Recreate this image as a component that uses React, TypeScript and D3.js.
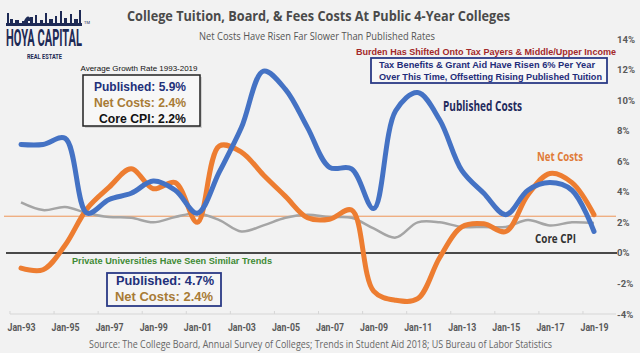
import { useEffect, useRef } from "react"
import * as d3 from "d3"

// Anos (Jan de cada ano)
const anos = d3.range(1993, 2020)

// Taxa de crescimento anual (%)
const publicados = [7.1, 7.1, 7.5, 2.6, 3.5, 3.9, 4.7, 4.1, 2.6, 5.3, 8.2, 11.9, 10.7, 8.2, 5.6, 5.5, 2.9, 9.3, 10.5, 8.7, 5.4, 3.9, 2.5, 4.1, 4.6, 4.1, 1.4]
const custosLiquidos = [-1.0, -1.1, 0.5, 2.9, 4.3, 5.5, 4.2, 4.6, 2.0, 7.0, 6.6, 5.1, 3.7, 2.3, 2.2, 2.8, -2.5, -3.1, -3.0, -0.3, 1.7, 1.9, 1.4, 3.8, 5.2, 4.6, 2.5]
const cpiNucleo = [3.3, 2.8, 3.0, 2.6, 2.35, 2.3, 2.0, 2.35, 2.6, 2.15, 1.4, 1.8, 2.3, 2.5, 2.35, 2.3, 1.6, 1.0, 2.0, 2.0, 1.7, 1.7, 1.7, 2.15, 1.8, 2.0, 1.95]

const mediaLiquida = 2.4
const ticksY = [-4, -2, 0, 2, 4, 6, 8, 10, 12, 14]
const ticksX = d3.range(1993, 2020, 2)

export default function App() {
  const svgRef = useRef<SVGSVGElement>(null)

  useEffect(() => {
    if (!svgRef.current) return
    const svg = d3.select(svgRef.current)
    svg.selectAll("*").remove()

    const width = 640
    const height = 353

    svg.append("rect").attr("width", width).attr("height", height).attr("fill", "#f2f2f2")

    // Escalas
    const x = d3.scaleLinear().domain([1993, 2019]).range([21, 594])
    const y = d3.scaleLinear().domain([-4, 14]).range([314, 39])

    // Logo
    const logo = svg.append("g").attr("fill", "#1e2a55")
    logo.append("rect").attr("x", 6).attr("y", 23).attr("width", 76).attr("height", 3)
    const predios: [number, number, number][] = [
      [7, 13, 2], [10, 19, 3], [15, 20, 4], [22, 21, 6], [30, 17, 3], [35, 15, 2], [40, 20, 3],
      [45, 13, 2], [49, 19, 4], [55, 16, 2], [60, 11, 2], [64, 18, 3], [70, 14, 2], [74, 19, 4], [79, 10, 2],
    ]
    predios.forEach(([px, py, pw]) => {
      logo.append("rect").attr("x", px).attr("y", py).attr("width", pw).attr("height", 24 - py)
    })
    logo.append("path").attr("d", "M24,21 Q28,12 32,21 Z")
    logo
      .append("text")
      .attr("x", 6)
      .attr("y", 46)
      .attr("textLength", 76)
      .attr("lengthAdjust", "spacingAndGlyphs")
      .style("font-family", "Roboto, sans-serif")
      .style("font-weight", "bold")
      .style("font-size", "23px")
      .text("HOYA CAPITAL")
    logo
      .append("text")
      .attr("x", 84)
      .attr("y", 24)
      .style("font-family", "Roboto, sans-serif")
      .style("font-size", "4px")
      .text("TM")
    logo
      .append("text")
      .attr("x", 27)
      .attr("y", 59)
      .attr("textLength", 35)
      .attr("lengthAdjust", "spacingAndGlyphs")
      .style("font-family", "Roboto, sans-serif")
      .style("font-weight", "bold")
      .style("font-size", "8px")
      .text("REAL ESTATE")

    // Titulos
    svg
      .append("text")
      .attr("x", 127)
      .attr("y", 21)
      .attr("textLength", 383)
      .attr("lengthAdjust", "spacingAndGlyphs")
      .style("font-family", "'Open Sans', sans-serif")
      .style("font-weight", "bold")
      .style("font-size", "14px")
      .attr("fill", "#4a4a4a")
      .text("College Tuition, Board, & Fees Costs At Public 4-Year Colleges")

    svg
      .append("text")
      .attr("x", 199)
      .attr("y", 40)
      .attr("textLength", 236)
      .attr("lengthAdjust", "spacingAndGlyphs")
      .style("font-family", "'Open Sans', sans-serif")
      .style("font-size", "10.5px")
      .attr("fill", "#555")
      .text("Net Costs Have Risen Far Slower Than Published Rates")

    svg
      .append("text")
      .attr("x", 356)
      .attr("y", 55)
      .attr("textLength", 260)
      .attr("lengthAdjust", "spacingAndGlyphs")
      .style("font-family", "'Liberation Sans', Arial, sans-serif")
      .style("font-weight", "bold")
      .style("font-size", "9.5px")
      .attr("fill", "#a3282a")
      .text("Burden Has Shifted Onto Tax Payers & Middle/Upper Income")

    // Eixo X
    svg
      .append("line")
      .attr("x1", 10)
      .attr("x2", 616)
      .attr("y1", y(-4))
      .attr("y2", y(-4))
      .attr("stroke", "#d6d6d6")
      .attr("stroke-width", 1)

    const eixoX = d3
      .axisBottom(x)
      .tickValues(ticksX)
      .tickSize(0)
      .tickPadding(10)
      .tickFormat((d) => "Jan-" + String(d).slice(2))
    const gx = svg.append("g").attr("transform", `translate(0,${y(-4)})`).call(eixoX)
    gx.select(".domain").remove()
    gx.selectAll("text")
      .attr("textLength", 28)
      .attr("lengthAdjust", "spacingAndGlyphs")
      .style("font-family", "Roboto, sans-serif")
      .style("font-weight", "bold")
      .style("font-size", "10.5px")
      .attr("fill", "#595959")
    ticksX.forEach((t) => {
      svg
        .append("line")
        .attr("x1", x(t - 0.5))
        .attr("x2", x(t - 0.5))
        .attr("y1", y(-4) - 3)
        .attr("y2", y(-4))
        .attr("stroke", "#d6d6d6")
    })

    // Eixo Y (direita)
    const eixoY = d3
      .axisRight(y)
      .tickValues(ticksY)
      .tickSize(0)
      .tickPadding(0)
      .tickFormat((d) => d + "%")
    const gy = svg.append("g").attr("transform", "translate(617,0)").call(eixoY)
    gy.select(".domain").remove()
    gy.selectAll("text")
      .style("font-family", "Roboto, sans-serif")
      .style("font-weight", "bold")
      .style("font-size", "9.5px")
      .attr("fill", "#595959")

    // Linha zero e media
    svg
      .append("line")
      .attr("x1", 6)
      .attr("x2", 617)
      .attr("y1", y(0))
      .attr("y2", y(0))
      .attr("stroke", "#111")
      .attr("stroke-width", 1.5)

    svg
      .append("line")
      .attr("x1", 4)
      .attr("x2", 616)
      .attr("y1", y(mediaLiquida))
      .attr("y2", y(mediaLiquida))
      .attr("stroke", "#ed7d31")
      .attr("stroke-width", 0.8)

    // Linhas
    const linha = d3
      .line<number>()
      .x((_, i) => x(anos[i]))
      .y((d) => y(d))
      .curve(d3.curveCatmullRom.alpha(0.5))

    svg
      .append("path")
      .attr("d", linha(cpiNucleo))
      .attr("fill", "none")
      .attr("stroke", "#a5a5a5")
      .attr("stroke-width", 2.5)

    svg
      .append("path")
      .attr("d", linha(custosLiquidos))
      .attr("fill", "none")
      .attr("stroke", "#ed7d31")
      .attr("stroke-width", 5)
      .attr("stroke-linecap", "round")

    svg
      .append("path")
      .attr("d", linha(publicados))
      .attr("fill", "none")
      .attr("stroke", "#4472c4")
      .attr("stroke-width", 5)
      .attr("stroke-linecap", "round")

    // Rotulos das series
    const rotulo = (tx: number, ty: number, txt: string, cor: string, tam: number, len: number) =>
      svg
        .append("text")
        .attr("x", tx)
        .attr("y", ty)
        .attr("textLength", len)
        .attr("lengthAdjust", "spacingAndGlyphs")
        .style("font-family", "'Open Sans', sans-serif")
        .style("font-weight", "bold")
        .style("font-size", tam + "px")
        .attr("fill", cor)
        .text(txt)

    rotulo(443, 111, "Published Costs", "#1f2a5c", 13.5, 79)
    rotulo(537, 161, "Net Costs", "#e07b39", 12, 46)
    rotulo(535, 243, "Core CPI", "#333", 12, 41)

    // Caixa azul
    svg
      .append("rect")
      .attr("x", 371)
      .attr("y", 58)
      .attr("width", 236)
      .attr("height", 25)
      .attr("fill", "#f7f7f7")
      .attr("stroke", "#2b3a86")
      .attr("stroke-width", 1.8)
    const arial = "'Liberation Sans', Arial, sans-serif"
    const caixaTexto = (tx: number, ty: number, txt: string, cor: string, tam: number, len: number) =>
      svg
        .append("text")
        .attr("x", tx)
        .attr("y", ty)
        .attr("textLength", len)
        .attr("lengthAdjust", "spacingAndGlyphs")
        .style("font-family", arial)
        .style("font-weight", "bold")
        .style("font-size", tam + "px")
        .attr("fill", cor)
        .text(txt)

    caixaTexto(379, 68, "Tax Benefits & Grant Aid Have Risen 6% Per Year", "#1f2d7a", 9.2, 216)
    caixaTexto(379, 79.5, "Over This Time, Offsetting Rising Published Tuition", "#1f2d7a", 9.2, 223)

    // Caixa de media
    svg
      .append("text")
      .attr("x", 139)
      .attr("y", 71)
      .attr("text-anchor", "middle")
      .attr("textLength", 117)
      .attr("lengthAdjust", "spacingAndGlyphs")
      .style("font-family", arial)
      .style("font-size", "7.5px")
      .attr("fill", "#111")
      .text("Average Growth Rate 1993-2019")

    svg
      .append("rect")
      .attr("x", 85)
      .attr("y", 77)
      .attr("width", 117)
      .attr("height", 51)
      .attr("fill", "#bbb")
      .attr("opacity", 0.6)
    svg
      .append("rect")
      .attr("x", 83)
      .attr("y", 75)
      .attr("width", 117)
      .attr("height", 51)
      .attr("fill", "#f7f7f7")
      .attr("stroke", "#222")
      .attr("stroke-width", 1.5)

    caixaTexto(94, 91, "Published: 5.9%", "#22307a", 13, 92)
    caixaTexto(94, 107, "Net Costs: 2.4%", "#a87b35", 13, 92)
    caixaTexto(99, 122.5, "Core CPI: 2.2%", "#111", 13, 87)

    // Universidades privadas
    caixaTexto(72, 264, "Private Universities Have Seen Similar Trends", "#3f8a35", 9, 200)

    svg
      .append("rect")
      .attr("x", 107)
      .attr("y", 273)
      .attr("width", 114)
      .attr("height", 33)
      .attr("fill", "#f5f5f5")
      .attr("stroke", "#2b3a86")
      .attr("stroke-width", 1.8)
    caixaTexto(116, 285, "Published: 4.7%", "#22307a", 12.5, 98)
    caixaTexto(115, 301, "Net Costs: 2.4%", "#a87b35", 12.5, 98)

    // Fonte
    svg
      .append("text")
      .attr("x", 89)
      .attr("y", 348)
      .attr("textLength", 463)
      .attr("lengthAdjust", "spacingAndGlyphs")
      .style("font-family", "'Open Sans', sans-serif")
      .style("font-size", "10.5px")
      .attr("fill", "#666")
      .text("Source: The College Board, Annual Survey of Colleges; Trends in Student Aid 2018; US Bureau of Labor Statistics")
  }, [])

  return (
    <svg
      ref={svgRef}
      width={640}
      height={353}
      style={{ position: "fixed", left: 0, top: 0, display: "block" }}
    />
  )
}
